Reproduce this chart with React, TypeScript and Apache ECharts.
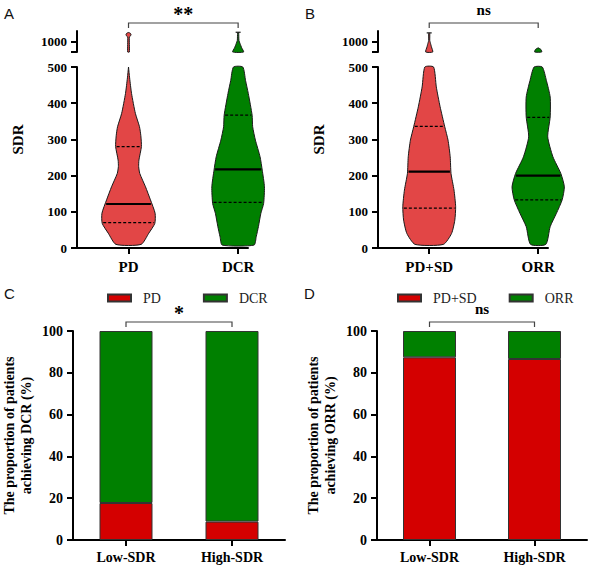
import { useEffect, useRef } from "react";
import * as echarts from "echarts";

const SERIF = '"Liberation Serif", "Times New Roman", serif';
const SANS = '"Liberation Sans", Arial, sans-serif';

// ---------- data ----------
const violinCatsA = ["PD", "DCR"];
const violinCatsB = ["PD+SD", "ORR"];
const barCats = ["Low-SDR", "High-SDR"];

const sdrTicks = [0, 100, 200, 300, 400, 500];
const sdrBreakLabels = [1000];
const sdrBreakTicks = [950, 1000];
const pctTicks = [0, 20, 40, 60, 80, 100];

// Violin outlines: [SDR, relative density (1 = widest)]
const pdLow = [[10, 0.46], [41, 0.74], [68, 0.96], [96, 0.97], [133, 0.8], [169, 0.62], [206, 0.41], [225, 0.37], [243, 0.38], [280, 0.47], [310, 0.45], [335, 0.4], [372, 0.25], [427, 0.11], [470, 0.04], [500, 0.0]];
const pdHigh = [[950, 0.03], [1022, 0.03], [1028, 0.08], [1034, 0.09], [1040, 0.06], [1043, 0.0]];
const dcrLow = [[8, 0.58], [31, 0.66], [59, 0.74], [96, 0.83], [123, 0.93], [169, 0.96], [215, 0.88], [252, 0.8], [298, 0.63], [335, 0.53], [367, 0.51], [427, 0.37], [463, 0.27], [500, 0.17]];
const dcrHigh = [[950, 0.2], [970, 0.13], [990, 0.07], [1005, 0.03], [1040, 0.02], [1044, 0.0]];
const pdsdLow = [[10, 0.52], [40, 0.82], [77, 0.94], [114, 0.97], [160, 0.91], [206, 0.8], [252, 0.77], [298, 0.69], [335, 0.57], [390, 0.4], [445, 0.26], [500, 0.16]];
const pdsdHigh = [[950, 0.13], [975, 0.08], [995, 0.04], [1005, 0.02], [1038, 0.02], [1041, 0.0]];
const orrLow = [[10, 0.28], [59, 0.44], [96, 0.67], [133, 0.88], [169, 0.96], [206, 0.83], [252, 0.54], [307, 0.35], [362, 0.44], [417, 0.44], [463, 0.3], [500, 0.15]];
const orrHigh = [[950, 0.13], [962, 0.1], [970, 0.0]];

// [Q1, median, Q3]
const quartPD = [70, 121.5, 280];
const quartDCR = [126, 217, 367];
const quartPDSD = [110, 211, 336];
const quartORR = [133, 200, 361];

// top end caps of the upper violins
const capsA = [null, 1044];
const capsB = [1041, null];

// proportions (%)
const pctPD = [17.7, 8.8];
const pctDCR = [82.3, 91.2];
const pctPDSD = [87.4, 86.6];
const pctORR = [12.6, 13.4];

const sigLabels = ["**", "ns", "*", "ns"];
const panelLetters = ["A", "B", "C", "D"];

// ---------- styles ----------
const RED_V = "#e24646";
const GREEN = "#008000";
const RED_B = "#d40000";
const VIOLIN_HALF = 0.25;

function interp(prof: number[][], v: number) {
  for (let k = 0; k < prof.length - 1; k++) {
    const [v0, d0] = prof[k];
    const [v1, d1] = prof[k + 1];
    if (v >= v0 && v <= v1) return d0 + ((d1 - d0) * (v - v0)) / (v1 - v0);
  }
  return 0;
}

function violinRenderer(profiles: number[][][], quarts: number[][] | null, caps: (number | null)[] | null, fills: string[]) {
  return (params: any, api: any) => {
    const x = api.value(0);
    const i = api.value(1);
    const prof = profiles[i];
    const unit = api.size([1, 0])[0];
    const left: number[][] = [];
    const right: number[][] = [];
    prof.forEach(([v, d]) => {
      const p = api.coord([x, v]);
      const w = d * VIOLIN_HALF * unit;
      left.push([p[0] - w, p[1]]);
      right.push([p[0] + w, p[1]]);
    });
    const children: any[] = [
      {
        type: "polygon",
        shape: { points: left.concat(right.reverse()), smooth: 0.2 },
        style: { fill: fills[i], stroke: "#1a1a1a", lineWidth: 1 },
      },
    ];
    if (quarts) {
      quarts[i].forEach((v, k) => {
        const d = interp(prof, v);
        if (d <= 0) return;
        const p = api.coord([x, v]);
        const w = d * VIOLIN_HALF * unit;
        children.push({
          type: "line",
          shape: { x1: p[0] - w + 1, y1: p[1], x2: p[0] + w - 1, y2: p[1] },
          style: { stroke: "#000", lineWidth: k === 1 ? 2.2 : 1.2, lineDash: k === 1 ? null : [3, 2] },
        });
      });
    }
    if (caps && caps[i] != null) {
      const p = api.coord([x, caps[i]]);
      children.push({
        type: "line",
        shape: { x1: p[0] - 2.5, y1: p[1], x2: p[0] + 2.5, y2: p[1] },
        style: { stroke: "#1a1a1a", lineWidth: 1.2 },
      });
    }
    return { type: "group", children };
  };
}

const axisLineStyle = { color: "#000", width: 2 };
const tickLabel = (size: number) => ({ fontFamily: SERIF, fontWeight: "bold" as const, fontSize: size, color: "#000" });

function violinX(gridIndex: number, cats: string[], lower: boolean) {
  return {
    gridIndex,
    type: "value",
    min: 0.53,
    max: 2.09,
    show: lower,
    axisLine: { show: lower, lineStyle: axisLineStyle },
    axisTick: { show: lower, customValues: [1, 2], length: 6, lineStyle: axisLineStyle },
    axisLabel: {
      show: lower,
      customValues: [1, 2],
      formatter: (v: number) => cats[Math.round(v) - 1],
      margin: 11,
      ...tickLabel(15),
    },
    splitLine: { show: false },
  };
}

function violinYLow(gridIndex: number) {
  return {
    gridIndex,
    type: "value",
    min: sdrTicks[0],
    max: sdrTicks[sdrTicks.length - 1],
    interval: 100,
    axisLine: { show: true, lineStyle: axisLineStyle },
    axisTick: { show: true, length: 6, lineStyle: axisLineStyle },
    axisLabel: { margin: 10, formatter: (v: number) => String(v), ...tickLabel(13) },
    splitLine: { show: false },
  };
}

function violinYHigh(gridIndex: number) {
  return {
    gridIndex,
    type: "value",
    min: 950,
    max: 1050,
    axisLine: { show: true, lineStyle: axisLineStyle },
    axisTick: { show: true, length: 6, customValues: sdrBreakTicks, lineStyle: axisLineStyle },
    axisLabel: { margin: 10, customValues: sdrBreakLabels, formatter: (v: number) => String(v), ...tickLabel(13) },
    splitLine: { show: false },
  };
}

function barX(gridIndex: number) {
  return {
    gridIndex,
    type: "category",
    data: barCats,
    axisLine: { show: true, lineStyle: axisLineStyle },
    axisTick: { show: true, alignWithLabel: true, length: 6, lineStyle: axisLineStyle },
    axisLabel: { margin: 10, ...tickLabel(14) },
  };
}

function barY(gridIndex: number, name: string) {
  return {
    gridIndex,
    type: "value",
    min: pctTicks[0],
    max: pctTicks[pctTicks.length - 1],
    interval: 20,
    axisLine: { show: true, lineStyle: axisLineStyle },
    axisTick: { show: true, length: 6, lineStyle: axisLineStyle },
    axisLabel: { margin: 10, ...tickLabel(14) },
    splitLine: { show: false },
    name,
    nameLocation: "middle",
    nameGap: 38,
    nameTextStyle: { fontFamily: SERIF, fontWeight: "bold", fontSize: 14, lineHeight: 17, color: "#000" },
  };
}

const barItem = (color: string) => ({ color, borderColor: "#333", borderWidth: 1 });

export default function App() {
  const ref = useRef<HTMLDivElement>(null);
  useEffect(() => {
    if (!ref.current) return;
    const chart = echarts.init(ref.current, null, { renderer: "svg" });
    const legendBase = {
      icon: "rect",
      itemWidth: 23,
      itemHeight: 7,
      top: 286,
      textStyle: { fontFamily: SERIF, fontSize: 14, color: "#222", padding: [0, 0, 0, 7] },
    };
    chart.setOption({
      animation: false,
      grid: [
        { left: 77, top: 31, width: 171, height: 21 },
        { left: 77, top: 67, width: 171, height: 181 },
        { left: 378, top: 31, width: 170, height: 21 },
        { left: 378, top: 67, width: 170, height: 181 },
        { left: 73, top: 331, width: 212, height: 209 },
        { left: 377, top: 331, width: 210, height: 209 },
      ],
      xAxis: [
        violinX(0, violinCatsA, false),
        violinX(1, violinCatsA, true),
        violinX(2, violinCatsB, false),
        violinX(3, violinCatsB, true),
        barX(4),
        barX(5),
      ],
      yAxis: [
        violinYHigh(0),
        violinYLow(1),
        violinYHigh(2),
        violinYLow(3),
        barY(4, "The proportion of patients\nachieving DCR (%)"),
        barY(5, "The proportion of patients\nachieving ORR (%)"),
      ],
      legend: [
        { ...legendBase, data: ["PD", "DCR"], left: 102, itemGap: 42 },
        { ...legendBase, data: ["PD+SD", "ORR"], left: 392, itemGap: 32 },
      ],
      series: [
        {
          type: "custom", name: "violinA-high", xAxisIndex: 0, yAxisIndex: 0,
          data: violinCatsA.map((c, i) => [i + 1, i]),
          renderItem: violinRenderer([pdHigh, dcrHigh], null, capsA, [RED_V, GREEN]),
        },
        {
          type: "custom", name: "violinA-low", xAxisIndex: 1, yAxisIndex: 1,
          data: violinCatsA.map((c, i) => [i + 1, i]),
          renderItem: violinRenderer([pdLow, dcrLow], [quartPD, quartDCR], null, [RED_V, GREEN]),
        },
        {
          type: "custom", name: "violinB-high", xAxisIndex: 2, yAxisIndex: 2,
          data: violinCatsB.map((c, i) => [i + 1, i]),
          renderItem: violinRenderer([pdsdHigh, orrHigh], null, capsB, [RED_V, GREEN]),
        },
        {
          type: "custom", name: "violinB-low", xAxisIndex: 3, yAxisIndex: 3,
          data: violinCatsB.map((c, i) => [i + 1, i]),
          renderItem: violinRenderer([pdsdLow, orrLow], [quartPDSD, quartORR], null, [RED_V, GREEN]),
        },
        { type: "bar", name: "PD", stack: "c", xAxisIndex: 4, yAxisIndex: 4, barWidth: 53, data: pctPD, itemStyle: barItem(RED_B) },
        { type: "bar", name: "DCR", stack: "c", xAxisIndex: 4, yAxisIndex: 4, barWidth: 53, data: pctDCR, itemStyle: barItem(GREEN) },
        { type: "bar", name: "PD+SD", stack: "d", xAxisIndex: 5, yAxisIndex: 5, barWidth: 53, data: pctPDSD, itemStyle: barItem(RED_B) },
        { type: "bar", name: "ORR", stack: "d", xAxisIndex: 5, yAxisIndex: 5, barWidth: 53, data: pctORR, itemStyle: barItem(GREEN) },
      ],
    });

    // annotations: brackets, significance labels, panel letters, SDR titles
    const px = (axis: number, v: any) => chart.convertToPixel({ xAxisIndex: axis } as any, v) as number;
    const py = (axis: number, v: any) => chart.convertToPixel({ yAxisIndex: axis } as any, v) as number;
    const brackets = [
      { x1: px(1, 1), x2: px(1, 2), y: py(0, 1050) - 8, label: sigLabels[0] },
      { x1: px(3, 1), x2: px(3, 2), y: py(2, 1050) - 8, label: sigLabels[1] },
      { x1: px(4, barCats[0]), x2: px(4, barCats[1]), y: py(4, 100) - 9, label: sigLabels[2] },
      { x1: px(5, barCats[0]), x2: px(5, barCats[1]), y: py(5, 100) - 9, label: sigLabels[3] },
    ];
    const graphics: any[] = [];
    brackets.forEach((b) => {
      graphics.push({
        type: "polyline",
        shape: { points: [[b.x1, b.y + 5], [b.x1, b.y], [b.x2, b.y], [b.x2, b.y + 5]] },
        style: { stroke: "#444", lineWidth: 1.2, fill: null },
      });
      const isStar = b.label.indexOf("*") >= 0;
      graphics.push({
        type: "text",
        x: (b.x1 + b.x2) / 2,
        y: isStar ? b.y - 9 : b.y - 13,
        style: {
          text: b.label, align: "center", verticalAlign: "middle",
          fontFamily: SERIF, fontWeight: "bold", fontSize: isStar ? 20 : 15, fill: "#000",
        },
      });
    });
    const letterPos = [[4, 13], [305, 13], [4, 293], [304, 293]];
    panelLetters.forEach((t, i) => {
      graphics.push({
        type: "text", x: letterPos[i][0], y: letterPos[i][1],
        style: { text: t, align: "left", verticalAlign: "middle", fontFamily: SANS, fontSize: 15, fill: "#111" },
      });
    });
    [1, 3].forEach((gi) => {
      const yMid = (py(gi - 1, 1050) + py(gi, 0)) / 2;
      const axX = px(gi, 0.53);
      graphics.push({
        type: "text", x: axX - 59, y: yMid, rotation: Math.PI / 2,
        style: { text: "SDR", align: "center", verticalAlign: "middle", fontFamily: SERIF, fontWeight: "bold", fontSize: 15, fill: "#000" },
      });
    });
    chart.setOption({ graphic: graphics });

    return () => chart.dispose();
  }, []);
  return <div ref={ref} style={{ position: "fixed", left: 0, top: 0, width: 600, height: 572, background: "#fff" }} />;
}
